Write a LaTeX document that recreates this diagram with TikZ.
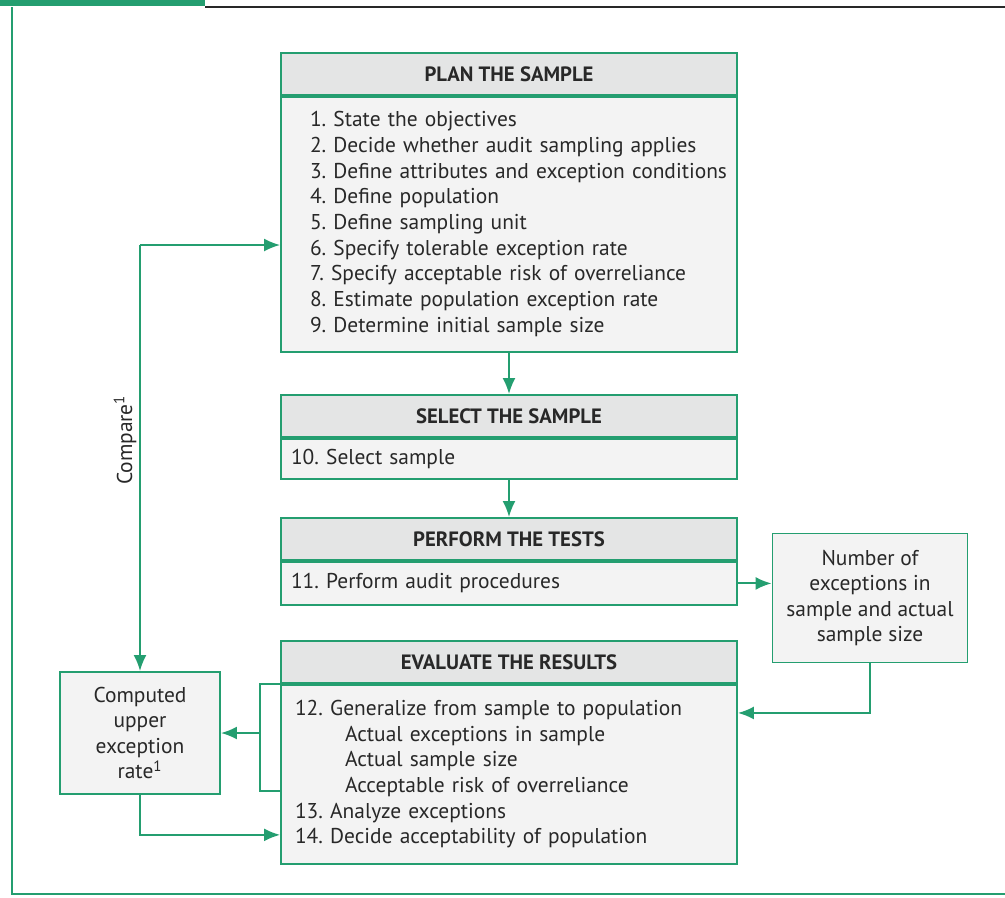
\documentclass[tikz,border=0pt]{standalone}
\usepackage{fontspec}
\setmainfont{PT Sans}
\usetikzlibrary{positioning,arrows.meta,calc}

\definecolor{auditgreen}{RGB}{36,158,112}
\definecolor{headgray}{RGB}{228,229,229}
\definecolor{bodygray}{RGB}{243,243,243}
\definecolor{inkgray}{RGB}{40,40,40}
\frenchspacing

\begin{document}
\begin{tikzpicture}[x=0.02cm,y=-0.02cm,
    every node/.style={text=inkgray,font=\fontsize{12.2}{14.6}\selectfont},
    head/.style={draw=auditgreen,line width=1.1pt,fill=headgray,minimum width=9.12cm,minimum height=0.84cm,inner sep=0pt,font=\fontsize{11.8}{14.6}\selectfont\bfseries},
    body/.style={draw=auditgreen,line width=1.1pt,fill=bodygray,text width=8.72cm,inner xsep=0.2cm,inner ysep=0pt,align=left},
    sidebox/.style={draw=auditgreen,line width=1.1pt,fill=bodygray,align=center,inner sep=0pt},
    link/.style={draw=auditgreen,line width=1.1pt},
    arr/.style={link,-{Latex[length=0.32cm,width=0.26cm]}}]
  \useasboundingbox (0,0) rectangle (1005,897);
  \fill[auditgreen] (0,0) rectangle (205,6);
  \draw[inkgray,line width=0.8pt] (205,7) -- (1005,7);
  \draw[auditgreen,line width=1pt] (12,7) -- (12,894) -- (1005,894);

  \node[head] (planhead) at (509,74) {PLAN THE SAMPLE};
  \node[body,below=0pt of planhead,minimum height=5.1cm] (planbody) {%
    \begin{tabular}{@{\hspace{0.38cm}}l@{}}
    1. State the objectives\\
    2. Decide whether audit sampling applies\\
    3. Define attributes and exception conditions\\
    4. Define population\\
    5. Define sampling unit\\
    6. Specify tolerable exception rate\\
    7. Specify acceptable risk of overreliance\\
    8. Estimate population exception rate\\
    9. Determine initial sample size
    \end{tabular}};

  \node[head] (selhead) at (509,416) {SELECT THE SAMPLE};
  \node[body,below=0pt of selhead,minimum height=0.8cm] (selbody) {10. Select sample};

  \node[head] (perfhead) at (509,539) {PERFORM THE TESTS};
  \node[body,below=0pt of perfhead,minimum height=0.86cm] (perfbody) {11. Perform audit procedures};

  \node[head] (evalhead) at (509,662) {EVALUATE THE RESULTS};
  \node[body,below=0pt of evalhead,minimum height=3.58cm] (evalbody) {%
    \begin{tabular}{@{\hspace{0.08cm}}l@{}}
    12. Generalize from sample to population\\
    \hspace*{1cm}Actual exceptions in sample\\
    \hspace*{1cm}Actual sample size\\
    \hspace*{1cm}Acceptable risk of overreliance\\
    13. Analyze exceptions\\
    14. Decide acceptability of population
    \end{tabular}};

  \node[sidebox,minimum width=3.9cm,minimum height=2.58cm] (numbox) at (870,598) {Number of\\exceptions in\\sample and actual\\sample size};
  \node[sidebox,minimum width=3.2cm,minimum height=2.44cm] (compbox) at (140,733) {Computed\\upper\\exception\\rate\textsuperscript{1}};
  \node[rotate=90] (cmplabel) at (125,440) {Compare\textsuperscript{1}};

  \draw[arr] (planbody.south) -- (selhead.north);
  \draw[arr] (selbody.south) -- (perfhead.north);
  \draw[arr] (perfbody.east) -- (perfbody.east -| numbox.west);
  \draw[arr] (numbox.south) |- ([yshift=-0.58cm]evalbody.north east);
  \coordinate (brk) at ([xshift=-0.4cm]evalbody.north west);
  \draw[link] (evalbody.north west) -- (brk) -- ++(0,107) -- ++(20,0);
  \draw[arr] (brk |- compbox.east) -- (compbox.east);
  \draw[arr] (compbox.south) |- ([yshift=0.6cm]evalbody.south west);
  \coordinate (cmp) at (compbox.north |- 0,245);
  \draw[arr] (cmp) -- (planbody.west |- cmp);
  \draw[arr] (cmp) -- (compbox.north);
\end{tikzpicture}
\end{document}
